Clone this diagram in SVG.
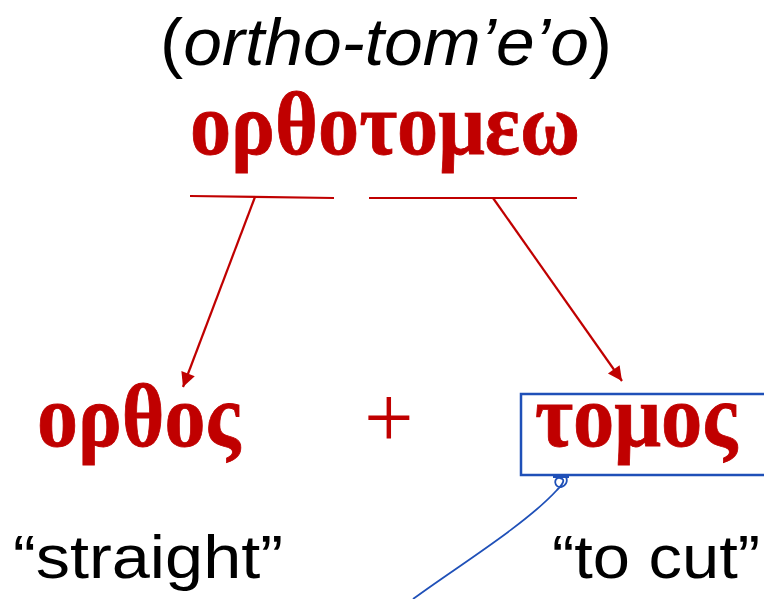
<svg xmlns="http://www.w3.org/2000/svg" width="764" height="599" viewBox="0 0 764 599">
<style>
.greek{font-family:"Liberation Serif","DejaVu Serif",serif;font-weight:bold;fill:#C00000;stroke:#C00000;stroke-width:0.8}
.sans{font-family:"Liberation Sans",Arial,sans-serif;fill:#000}
.red{stroke:#C00000;stroke-width:2.2;fill:none}
</style>
<defs>
<marker id="arr" viewBox="0 0 10 10" refX="10" refY="5" markerWidth="8" markerHeight="6.5" markerUnits="strokeWidth" orient="auto">
<path d="M0,0 L10,5 L0,10 Z" fill="#C00000"/>
</marker>
</defs>
<rect width="764" height="599" fill="#fff"/>
<g id="title">
<text class="sans" x="160" y="65" font-size="66" textLength="452" lengthAdjust="spacingAndGlyphs">(<tspan font-style="italic">ortho-tom’e’o</tspan>)</text>
</g>
<g id="word">
<text class="greek" x="190" y="154" font-size="88" textLength="390" lengthAdjust="spacingAndGlyphs">ορθοτομεω</text>
</g>
<g id="orthos">
<text class="greek" x="37" y="446" font-size="88" textLength="203" lengthAdjust="spacingAndGlyphs">ορθος</text>
</g>
<g id="plus">
<text x="364" y="447" font-family="Liberation Serif,serif" font-size="88" fill="#C00000">+</text>
</g>
<g id="tomos">
<rect x="521" y="394" width="260" height="81" fill="none" stroke="#1F50B8" stroke-width="2.5"/>
<text class="greek" x="535" y="446" font-size="88" textLength="202" lengthAdjust="spacingAndGlyphs">τομος</text>
</g>
<g id="straight">
<text class="sans" x="13" y="578" font-size="62" textLength="270" lengthAdjust="spacingAndGlyphs">“straight”</text>
</g>
<g id="tocut">
<text class="sans" x="552" y="578" font-size="62" textLength="208" lengthAdjust="spacingAndGlyphs">“to cut”</text>
</g>
<g id="connectors">
<line class="red" x1="190" y1="196" x2="334" y2="198"/>
<line class="red" x1="369" y1="198" x2="577" y2="198"/>
<line class="red" x1="255" y1="197" x2="183" y2="387" marker-end="url(#arr)"/>
<line class="red" x1="493" y1="198" x2="622" y2="381" marker-end="url(#arr)"/>
<path d="M413,599 C455,568 525,525 557,490 C563,484 566,479 560,478 C553,477 554,488 561,487 C566,486 568,481 566,477 M553,477 L569,477" fill="none" stroke="#1F50B8" stroke-width="1.8"/>
</g>
</svg>
